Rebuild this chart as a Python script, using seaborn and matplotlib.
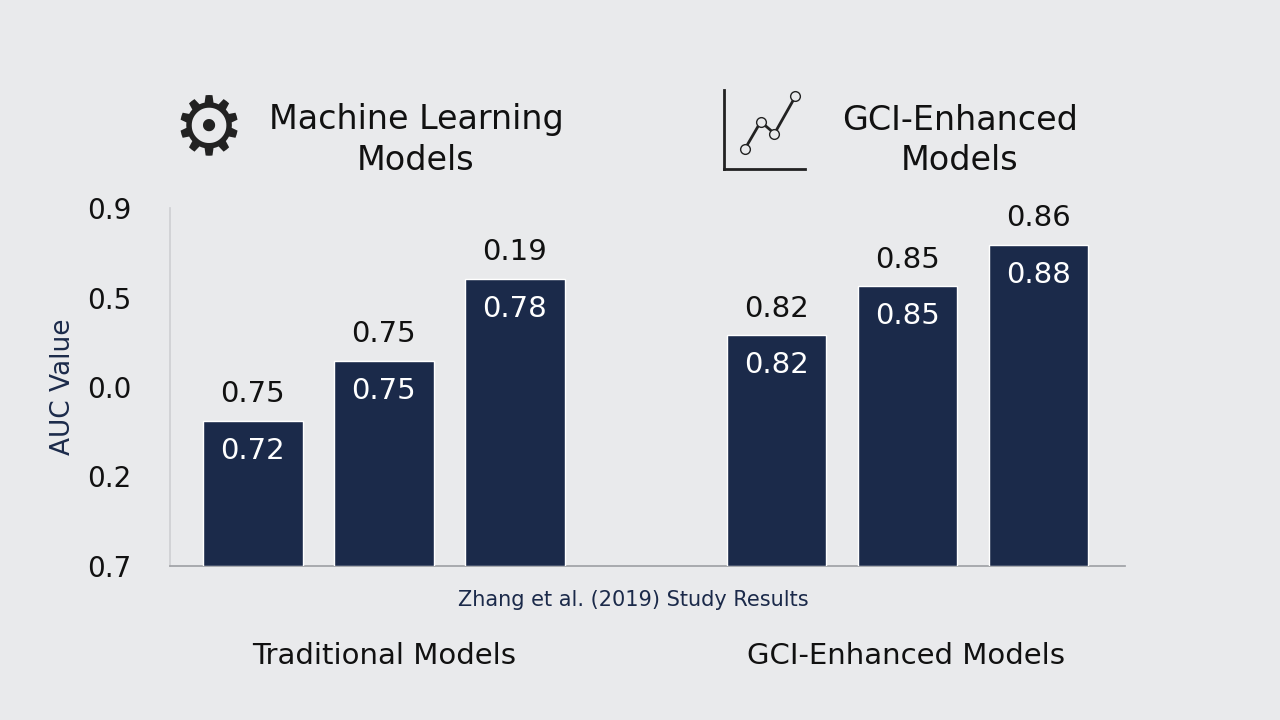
import matplotlib
matplotlib.use("Agg")
import matplotlib.pyplot as plt
import seaborn as sns
import pandas as pd

positions = [0, 1, 2, 4, 5, 6]
heights = [0.405, 0.573, 0.802, 0.645, 0.782, 0.897]
top_labels = ["0.75", "0.75", "0.19", "0.82", "0.85", "0.86"]
inner_labels = ["0.72", "0.75", "0.78", "0.82", "0.85", "0.88"]
ytick_pos = [0, 0.25, 0.5, 0.75, 1.0]
ytick_labels = ["0.7", "0.2", "0.0", "0.5", "0.9"]

sns.set_theme(style="white")
plt.rcParams['font.family'] = ['DejaVu Sans']
bg = "#e9eaec"
fig = plt.figure(figsize=(12.8, 7.2), dpi=100, facecolor=bg)
ax = fig.add_axes([0.133, 0.214, 0.746, 0.497], facecolor=bg)
df = pd.DataFrame({"pos": positions, "h": heights})
ax.bar(df["pos"], df["h"], width=0.76, color="#1b2a4a", zorder=3)
for p, h, t, i in zip(positions, heights, top_labels, inner_labels):
    ax.text(p, h + 0.035, t, ha="center", va="bottom", fontsize=21, color="#111111")
    ax.text(p, h - 0.045, i, ha="center", va="top", fontsize=21, color="white", zorder=4)
ax.set_xlim(-0.63, 6.66)
ax.set_ylim(0, 1.0)
ax.set_xticks([])
ax.set_yticks(ytick_pos)
ax.set_yticklabels(ytick_labels, fontsize=20, color="#111111")
ax.tick_params(axis="y", length=0, pad=28)
ax.set_ylabel("AUC Value", fontsize=19, color="#1b2a4a", labelpad=8)
for s in ["top", "right"]:
    ax.spines[s].set_visible(False)
ax.spines["left"].set_color("#cfd0d3")
ax.spines["bottom"].set_color("#a0a2a6")

fig.text(0.495, 0.158, "Zhang et al. (2019) Study Results", ha="center", fontsize=15, color="#1b2a4a")
fig.text(0.300, 0.078, "Traditional Models", ha="center", fontsize=21, color="#111111")
fig.text(0.708, 0.078, "GCI-Enhanced Models", ha="center", fontsize=21, color="#111111")
fig.text(0.325, 0.805, "Machine Learning\nModels", ha="center", va="center", fontsize=24, color="#111111", linespacing=1.3)
fig.text(0.750, 0.805, "GCI-Enhanced\nModels", ha="center", va="center", fontsize=24, color="#111111", linespacing=1.3)
fig.text(0.163, 0.817, "⚙", ha="center", va="center", fontsize=58, color="#222222")
ic = fig.add_axes([0.566, 0.765, 0.063, 0.11], facecolor="none")
ic.plot([0.25, 0.45, 0.62, 0.88], [0.25, 0.6, 0.45, 0.92], "-o", color="#222222", lw=2,
        markerfacecolor=bg, markersize=7)
ic.set_xlim(0, 1); ic.set_ylim(0, 1)
ic.set_xticks([]); ic.set_yticks([])
for s in ["top", "right"]:
    ic.spines[s].set_visible(False)
for s in ["left", "bottom"]:
    ic.spines[s].set_color("#222222"); ic.spines[s].set_linewidth(2)
fig.savefig("out.png", dpi=100, facecolor=bg)
